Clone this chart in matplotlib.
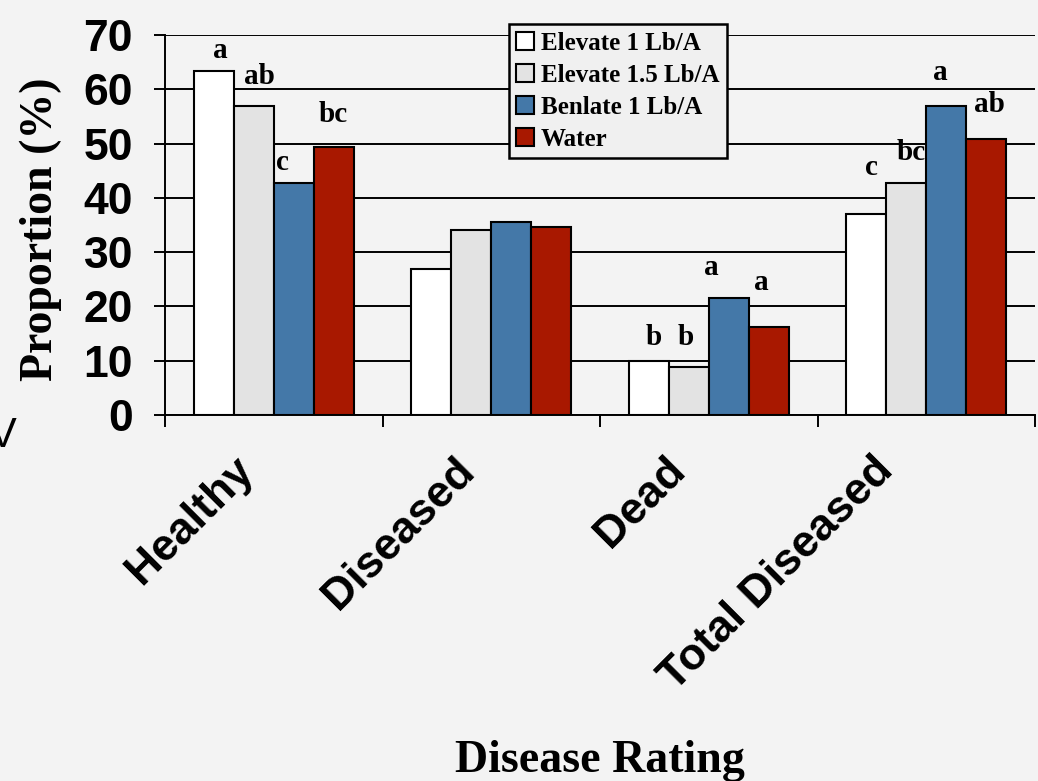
import numpy as np
import matplotlib
matplotlib.use('Agg')
import matplotlib.pyplot as plt
import matplotlib.transforms as mtransforms

categories = ['Healthy', 'Diseased', 'Dead', 'Total Diseased']
series_names = ['Elevate 1 Lb/A', 'Elevate 1.5 Lb/A', 'Benlate 1 Lb/A', 'Water']
elevate_1 = [63.4, 26.9, 9.9, 37.0]
elevate_15 = [57.0, 34.1, 8.9, 42.7]
benlate_1 = [42.7, 35.5, 21.5, 57.0]
water = [49.4, 34.7, 16.3, 50.8]
letters_elevate_1 = ['a', '', 'b', 'c']
letters_elevate_15 = ['ab', '', 'b', 'bc']
letters_benlate_1 = ['c', '', 'a', 'a']
letters_water = ['bc', '', 'a', 'ab']
y_ticks = [0, 10, 20, 30, 40, 50, 60, 70]

values = [elevate_1, elevate_15, benlate_1, water]
letters = [letters_elevate_1, letters_elevate_15, letters_benlate_1, letters_water]
colors = ['#ffffff', '#e3e3e3', '#4478a8', '#a81800']
bg = '#f3f3f3'

# label nudges in pixels (dx, dy above bar top), per series / category
letter_nudge = [
    [(7, 13), None, (5, 16), (5, 39)],
    [(6, 22), None, (-3, 22), (5, 23)],
    [(-11, 13), None, (-17, 23), (-6, 26)],
    [(-1, 25), None, (-7, 37), (3, 27)],
]
cat_shift = [-41, -38, -44, -54]

SANS = 'Liberation Sans'
SERIF = 'Liberation Serif'

fig = plt.figure(figsize=(10.38, 7.81), dpi=100, facecolor=bg)
ax = fig.add_axes([0.159, 0.4686, 0.8381, 0.4866], facecolor=bg)

x = np.arange(len(categories))
width = 0.184
for i, (vals, name, col) in enumerate(zip(values, series_names, colors)):
    pos = x + (i - 1.5) * width
    ax.bar(pos, vals, width, color=col, edgecolor='black', linewidth=1.5,
           label=name, zorder=3)
    for j, (v, txt) in enumerate(zip(vals, letters[i])):
        if not txt:
            continue
        dx, dy = letter_nudge[i][j]
        ax.annotate(txt, (pos[j], v), xytext=(dx, dy), textcoords='offset pixels',
                    ha='center', va='baseline', fontsize=21, fontweight='bold',
                    family=SERIF, zorder=4)

ax.set_xlim(-0.5, 3.5)
ax.set_ylim(0, 70)
ax.set_yticks(y_ticks)
ax.set_yticklabels([str(t) for t in y_ticks], fontsize=32, fontweight='bold', family=SANS)
ax.yaxis.grid(True, color='black', linewidth=1.4, zorder=0)
ax.set_axisbelow(True)

ax.set_xticks(np.arange(-0.5, 4.0, 1.0))
ax.set_xticklabels([])
ax.set_xticks(x, categories, minor=True)
ax.tick_params(axis='x', which='major', direction='out', length=8.5, width=1.4)
ax.tick_params(axis='x', which='minor', length=0, pad=25)
ax.tick_params(axis='y', direction='out', length=8, width=1.4, pad=15)
for lab, sh in zip(ax.get_xticklabels(minor=True), cat_shift):
    lab.set_rotation(45)
    lab.set_rotation_mode('anchor')
    lab.set_ha('right')
    lab.set_va('top')
    lab.set_fontsize(32)
    lab.set_fontweight('bold')
    lab.set_family(SANS)
    lab.set_transform(lab.get_transform() +
                      mtransforms.ScaledTranslation(sh / 100, 0, fig.dpi_scale_trans))

for s in ['top', 'right']:
    ax.spines[s].set_visible(False)
ax.spines['left'].set_linewidth(1.4)
ax.spines['bottom'].set_linewidth(1.4)

ax.set_ylabel('Proportion (%)', fontsize=33, fontweight='bold', family=SERIF)
ax.yaxis.set_label_coords(-0.118, 0.49)
fig.text(0.5 * (0.159 + 0.9971), 1 - 772 / 781, 'Disease Rating', ha='center', va='baseline',
         fontsize=33, fontweight='bold', family=SERIF)

fig.text(17 / 1038, 1 - 447 / 781, 'V', ha='right', va='baseline', fontsize=30, family=SANS)

leg = ax.legend(loc='upper left', bbox_to_anchor=(0.490, 0.969), bbox_transform=fig.transFigure,
                borderaxespad=0, fancybox=False, framealpha=1, edgecolor='black',
                facecolor='#f0f0f0', handlelength=0.7, handleheight=0.7, handletextpad=0.3,
                labelspacing=0.36, borderpad=0.3,
                prop={'family': SERIF, 'weight': 'bold', 'size': 18})
leg.get_frame().set_linewidth(1.8)
leg.set_zorder(10)

fig.savefig('out.png', dpi=100, facecolor=bg)
